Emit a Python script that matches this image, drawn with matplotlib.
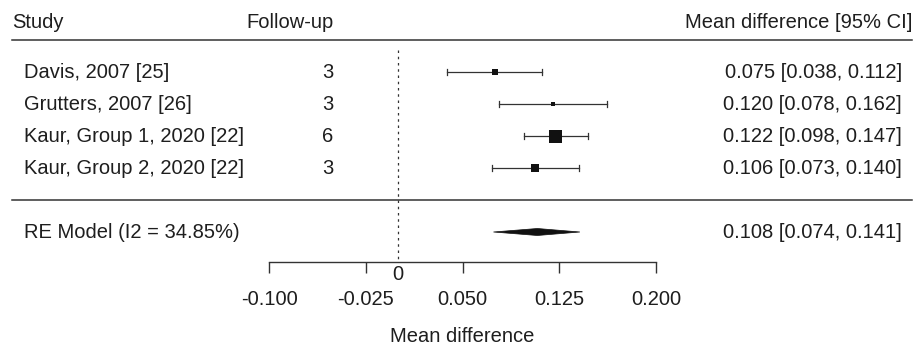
import matplotlib
matplotlib.use("Agg")
import matplotlib.pyplot as plt
from matplotlib.patches import Polygon

plt.rcParams['font.family'] = ['Liberation Sans', 'DejaVu Sans']

studies = ["Davis, 2007 [25]", "Grutters, 2007 [26]", "Kaur, Group 1, 2020 [22]", "Kaur, Group 2, 2020 [22]"]
followup = ["3", "3", "6", "3"]
est = [0.075, 0.120, 0.122, 0.106]
lo = [0.038, 0.078, 0.098, 0.073]
hi = [0.112, 0.162, 0.147, 0.140]
weights = [6, 4, 13, 8]  # square side (px), proportional to study weight
re_label = "RE Model (I2 = 34.85%)"
re_est, re_lo, re_hi = 0.108, 0.074, 0.141
xticks = [-0.100, -0.025, 0.050, 0.125, 0.200]
xticklabels = ["-0.100", "-0.025", "0.050", "0.125", "0.200"]

W, H, DPI = 917, 345, 100
fig = plt.figure(figsize=(W / DPI, H / DPI), dpi=DPI)
ax = fig.add_axes([0, 0, 1, 1])
ppu = 1290.0
x0px = 398.0
ax.set_xlim(-x0px / ppu, (W - x0px) / ppu)
rowpx = 32.0
def row_of(ypx):
    return 1 - (ypx - 168) / rowpx
ax.set_ylim(row_of(H), row_of(0))

def px2x(px):
    return (px - x0px) / ppu

fs = 14.5
tc = '#1e1e1e'
lc = '#333333'
rows = [4, 3, 2, 1]

# headers
ax.text(px2x(12), row_of(22), "Study", fontsize=fs, color=tc, ha='left', va='center')
ax.text(px2x(290), row_of(22), "Follow-up", fontsize=fs, color=tc, ha='center', va='center')
ax.text(px2x(912), row_of(22), "Mean difference [95% CI]", fontsize=fs, color=tc, ha='right', va='center')
ax.plot([px2x(12), px2x(912)], [row_of(40)] * 2, color=lc, lw=1.1)
ax.plot([px2x(12), px2x(912)], [row_of(200)] * 2, color=lc, lw=1.1)

# reference line
ax.plot([0, 0], [row_of(50), row_of(262)], color=lc, lw=0.9, ls=(0, (2, 3)))

cap = 3.0 / rowpx
for r, s, f, e, l, h, w in zip(rows, studies, followup, est, lo, hi, weights):
    ax.text(px2x(24), r, s, fontsize=fs, color=tc, ha='left', va='center')
    ax.text(px2x(328), r, f, fontsize=fs, color=tc, ha='center', va='center')
    ax.text(px2x(902), r, f"{e:.3f} [{l:.3f}, {h:.3f}]", fontsize=fs, color=tc, ha='right', va='center')
    ax.plot([l, h], [r, r], color=lc, lw=0.9)
    ax.plot([l, l], [r - cap, r + cap], color=lc, lw=0.9)
    ax.plot([h, h], [r - cap, r + cap], color=lc, lw=0.9)
    ax.plot([e], [r], marker='s', ms=w * 72 / DPI, color='#111111', mew=0)

# summary
rr = -1
ax.text(px2x(24), rr, re_label, fontsize=fs, color=tc, ha='left', va='center')
ax.text(px2x(902), rr, f"{re_est:.3f} [{re_lo:.3f}, {re_hi:.3f}]", fontsize=fs, color=tc, ha='right', va='center')
dh = 3.5 / rowpx
ax.add_patch(Polygon([[re_lo, rr], [re_est, rr + dh], [re_hi, rr], [re_est, rr - dh]],
                     closed=True, facecolor='#111111', edgecolor='#111111', lw=0.5))

# x axis
for sp in ['top', 'right', 'left']:
    ax.spines[sp].set_visible(False)
ax.spines['bottom'].set_position(('data', row_of(262)))
ax.spines['bottom'].set_bounds(xticks[0], xticks[-1])
ax.spines['bottom'].set_color(lc)
ax.spines['bottom'].set_linewidth(1.0)
ax.set_yticks([])
ax.set_xticks(xticks)
ax.set_xticklabels(xticklabels)
ax.tick_params(axis='x', direction='out', length=8, width=1.0, color=lc,
               labelsize=fs, labelcolor=tc, pad=12.5)
ax.text(0, row_of(274), "0", fontsize=fs, color=tc, ha='center', va='center')
ax.text(px2x(462), row_of(336), "Mean difference", fontsize=fs, color=tc, ha='center', va='center')
ax.patch.set_visible(False)

fig.savefig("out.png", dpi=DPI)
